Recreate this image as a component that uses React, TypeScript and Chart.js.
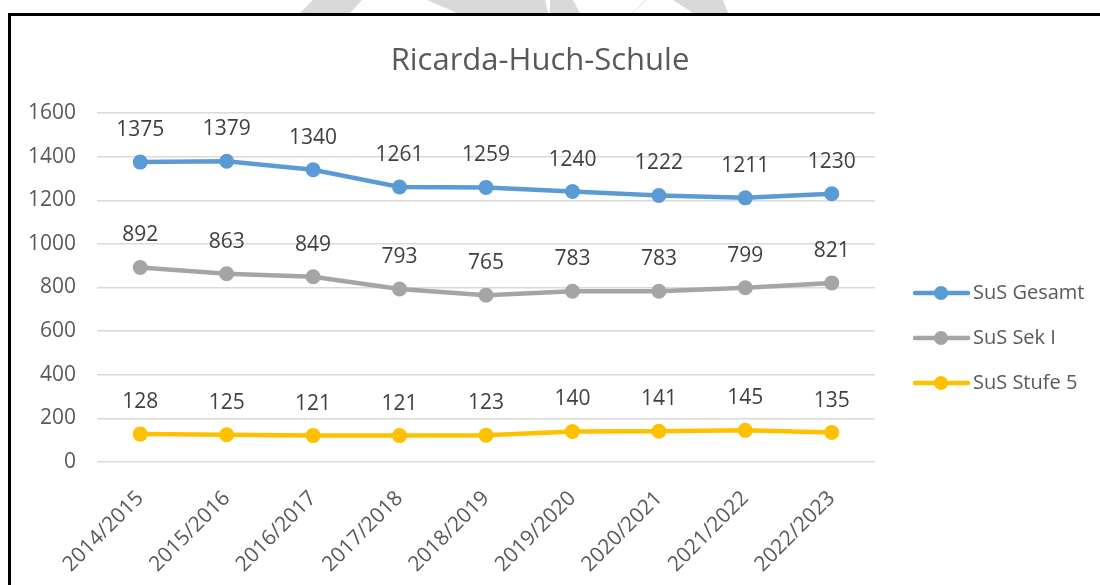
import React, { useEffect, useRef } from "react";
import { Chart, registerables } from "chart.js";

Chart.register(...registerables);

const chartTitle = "Ricarda-Huch-Schule";
const categories = [
  "2014/2015",
  "2015/2016",
  "2016/2017",
  "2017/2018",
  "2018/2019",
  "2019/2020",
  "2020/2021",
  "2021/2022",
  "2022/2023",
];
const susGesamt = [1375, 1379, 1340, 1261, 1259, 1240, 1222, 1211, 1230];
const susSekI = [892, 863, 849, 793, 765, 783, 783, 799, 821];
const susStufe5 = [128, 125, 121, 121, 123, 140, 141, 145, 135];
const seriesNames = ["SuS Gesamt", "SuS Sek I", "SuS Stufe 5"];
const seriesColors = ["#5B9BD5", "#A5A5A5", "#FFC000"];
const yMin = 0;
const yMax = 1600;
const yStep = 200;

const FONT = '"Open Sans", "Liberation Sans", sans-serif';

const decorPlugin = {
  id: "decor",
  beforeDraw(chart: any) {
    const ctx = chart.ctx;
    ctx.save();
    ctx.fillStyle = "#ffffff";
    ctx.fillRect(0, 0, chart.width, chart.height);
    // watermark stripes above the frame
    ctx.fillStyle = "#d9d9d9";
    const polys = [
      [[313, 0], [362, 0], [350, 13], [300, 13]],
      [[427, 0], [545, 0], [548, 13], [457, 13]],
      [[550, 0], [573, 0], [580, 13], [550, 13]],
      [[673, 0], [723, 0], [728, 13], [693, 13]],
    ];
    for (const p of polys) {
      ctx.beginPath();
      ctx.moveTo(p[0][0], p[0][1]);
      for (let i = 1; i < p.length; i++) ctx.lineTo(p[i][0], p[i][1]);
      ctx.closePath();
      ctx.fill();
    }
    ctx.strokeStyle = "#dedede";
    ctx.lineWidth = 1;
    ctx.beginPath();
    ctx.moveTo(646, 0);
    ctx.lineTo(632, 13);
    ctx.stroke();
    // frame
    ctx.strokeStyle = "#000000";
    ctx.lineWidth = 3;
    ctx.beginPath();
    ctx.moveTo(9.5, chart.height);
    ctx.lineTo(9.5, 14.5);
    ctx.lineTo(chart.width, 14.5);
    ctx.stroke();
    // title
    ctx.fillStyle = "#595959";
    ctx.font = `31px ${FONT}`;
    ctx.textAlign = "center";
    ctx.textBaseline = "alphabetic";
    ctx.fillText(chartTitle, 540, 70);
    ctx.restore();
  },
  afterDatasetsDraw(chart: any) {
    const ctx = chart.ctx;
    ctx.save();
    ctx.font = `21px ${FONT}`;
    ctx.fillStyle = "#404040";
    ctx.textAlign = "center";
    ctx.textBaseline = "middle";
    chart.data.datasets.forEach((ds: any, i: number) => {
      const meta = chart.getDatasetMeta(i);
      meta.data.forEach((pt: any, j: number) => {
        ctx.fillText(String(ds.data[j]), pt.x, pt.y - 32);
      });
    });
    // legend
    const legendY = [293, 338, 383];
    chart.data.datasets.forEach((ds: any, i: number) => {
      const y = legendY[i];
      ctx.strokeStyle = ds.borderColor;
      ctx.lineWidth = 4.5;
      ctx.lineCap = "round";
      ctx.beginPath();
      ctx.moveTo(915, y);
      ctx.lineTo(968, y);
      ctx.stroke();
      ctx.fillStyle = ds.borderColor;
      ctx.beginPath();
      ctx.arc(941, y, 7, 0, Math.PI * 2);
      ctx.fill();
      ctx.fillStyle = "#595959";
      ctx.font = `20px ${FONT}`;
      ctx.textAlign = "left";
      ctx.textBaseline = "middle";
      ctx.fillText(ds.label, 973, y);
    });
    ctx.restore();
  },
};

export default function App() {
  const ref = useRef<HTMLCanvasElement | null>(null);
  useEffect(() => {
    if (!ref.current) return;
    const makeDs = (label: string, data: number[], color: string) => ({
      label,
      data,
      borderColor: color,
      backgroundColor: color,
      pointBackgroundColor: color,
      pointBorderColor: color,
      pointBorderWidth: 0,
      pointRadius: 7.5,
      borderWidth: 4.5,
      tension: 0,
      fill: false,
    });
    const chart = new Chart(ref.current, {
      type: "line",
      data: {
        labels: categories,
        datasets: [
          makeDs(seriesNames[0], susGesamt, seriesColors[0]),
          makeDs(seriesNames[1], susSekI, seriesColors[1]),
          makeDs(seriesNames[2], susStufe5, seriesColors[2]),
        ],
      },
      options: {
        animation: false,
        responsive: false,
        maintainAspectRatio: false,
        devicePixelRatio: 1,
        layout: { padding: { left: 12, right: 225, top: 113, bottom: 0 } },
        plugins: {
          legend: { display: false },
          title: { display: false },
          tooltip: { enabled: false },
        },
        scales: {
          x: {
            offset: true,
            grid: { display: false, drawTicks: false },
            border: { display: false },
            ticks: {
              autoSkip: false,
              minRotation: 45,
              maxRotation: 45,
              padding: 24,
              color: "#595959",
              font: { family: FONT, size: 21 },
            },
            afterFit(scale: any) {
              scale.height = 123;
            },
          },
          y: {
            min: yMin,
            max: yMax,
            grid: { color: "#d9d9d9", lineWidth: 1.5, drawTicks: false },
            border: { display: false },
            ticks: {
              stepSize: yStep,
              padding: 21,
              color: "#595959",
              font: { family: FONT, size: 21 },
              callback: (v: any) => String(v),
            },
            afterFit(scale: any) {
              scale.width = 85;
            },
          },
        },
      },
      plugins: [decorPlugin],
    } as any);
    return () => chart.destroy();
  }, []);
  return (
    <div style={{ position: "absolute", left: 0, top: 0, width: 1100, height: 585 }}>
      <canvas ref={ref} width={1100} height={585} style={{ width: 1100, height: 585 }} />
    </div>
  );
}
